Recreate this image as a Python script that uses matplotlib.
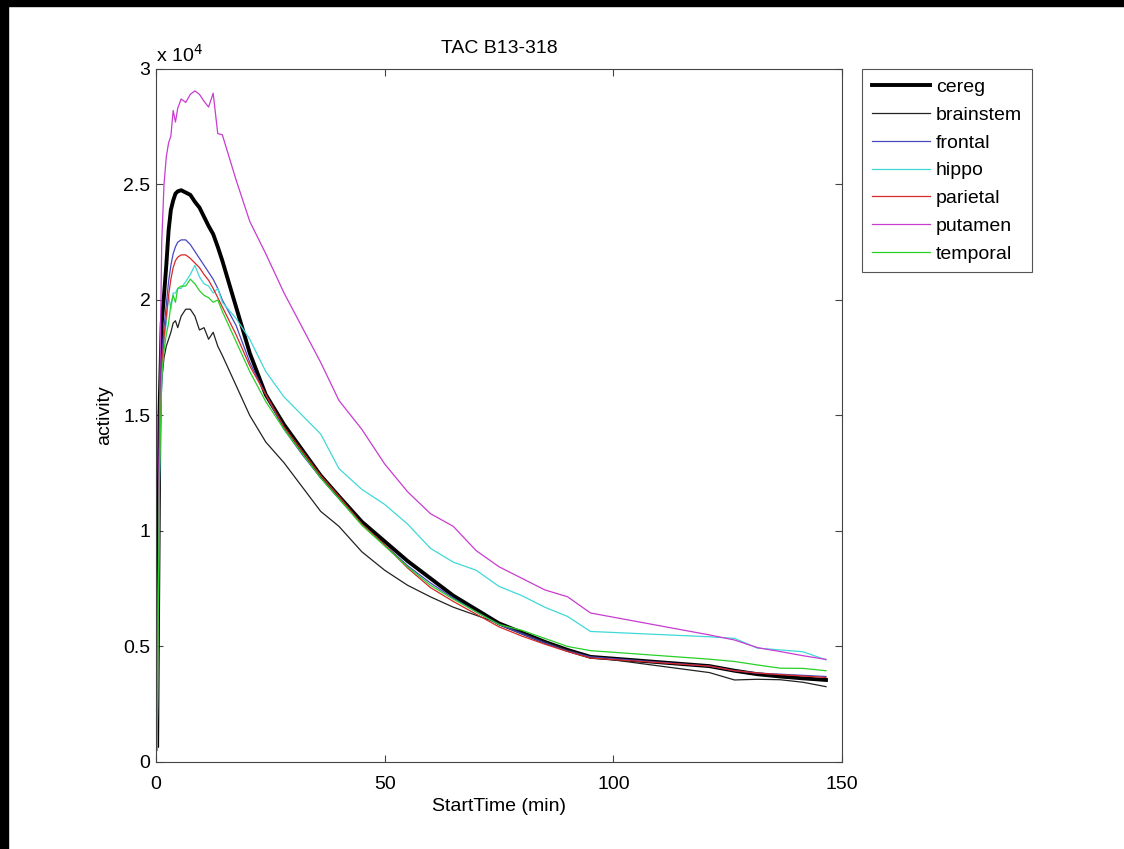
import matplotlib
matplotlib.use("Agg")
import matplotlib.pyplot as plt
from matplotlib.patches import Rectangle
from matplotlib.ticker import FuncFormatter

# frame start times (min)
t = [0.25, 0.75, 1.25, 1.75, 2.25, 2.75, 3.25, 3.75, 4.25, 4.75,
     5.5, 6.5, 7.5, 8.5, 9.5, 10.5, 11.5, 12.5, 13.5, 14.5,
     17.5, 20.5, 24, 28, 32, 36, 40, 45, 50, 55,
     60, 65, 70, 75, 80, 85, 90, 95, 121, 126.5,
     131.5, 136.5, 141.5, 146.5]

cereg = [700, 15000, 19000, 20200, 21500, 23000, 23900, 24300, 24600, 24700,
         24750, 24650, 24550, 24250, 24000, 23600, 23200, 22850, 22300, 21700,
         19700, 17700, 15900, 14600, 13500, 12400, 11500, 10400, 9550, 8700,
         7950, 7200, 6600, 6000, 5600, 5200, 4850, 4550, 4150, 3950,
         3800, 3700, 3620, 3550]
brainstem = [700, 13000, 16500, 17500, 18000, 18300, 18600, 19000, 19100, 18800,
             19300, 19600, 19600, 19300, 18700, 18800, 18300, 18600, 18000, 17600,
             16300, 15000, 13850, 12950, 11900, 10850, 10200, 9100, 8300, 7650,
             7150, 6700, 6350, 6000, 5600, 5200, 4850, 4550, 3870, 3550,
             3580, 3560, 3450, 3260]
frontal = [600, 13500, 17500, 18800, 19800, 20800, 21500, 22000, 22300, 22500,
           22600, 22600, 22400, 22100, 21800, 21500, 21200, 20900, 20500, 20000,
           18900, 17300, 15900, 14400, 13300, 12300, 11400, 10300, 9400, 8500,
           7750, 7100, 6500, 5950, 5550, 5150, 4800, 4550, 4150, 3950,
           3850, 3800, 3750, 3700]
hippo = [500, 12000, 16500, 18200, 19000, 20200, 19600, 20300, 20300, 20500,
         20500, 20800, 21100, 21500, 21000, 20700, 20600, 20300, 20500, 19900,
         19200, 18300, 16900, 15800, 15000, 14200, 12700, 11800, 11150, 10300,
         9250, 8650, 8300, 7600, 7200, 6700, 6300, 5650, 5420, 5350,
         4930, 4850, 4770, 4420]
parietal = [600, 13000, 17000, 18400, 19300, 20200, 20900, 21400, 21700, 21850,
            21950, 21950, 21800, 21600, 21400, 21100, 20850, 20500, 20100, 19700,
            18500, 17150, 15900, 14500, 13450, 12400, 11500, 10300, 9400, 8400,
            7550, 6950, 6400, 5850, 5450, 5100, 4780, 4500, 4150, 3950,
            3850, 3780, 3720, 3660]
putamen = [600, 15000, 22500, 25000, 26200, 26800, 27100, 28200, 27700, 28300,
           28700, 28550, 28900, 29050, 28900, 28600, 28350, 28950, 27200, 27150,
           25200, 23400, 22000, 20300, 18800, 17300, 15650, 14400, 12900, 11700,
           10750, 10200, 9150, 8450, 7950, 7450, 7150, 6450, 5500, 5280,
           4950, 4780, 4600, 4440]
temporal = [500, 12500, 16800, 17800, 18500, 19000, 19800, 20200, 19900, 20500,
            20600, 20600, 20900, 20700, 20400, 20200, 20100, 19900, 20000, 19500,
            18200, 16900, 15600, 14400, 13350, 12300, 11400, 10250, 9350, 8450,
            7650, 7050, 6500, 5950, 5700, 5350, 5000, 4820, 4450, 4350,
            4200, 4060, 4050, 3950]

regions = ["cereg", "brainstem", "frontal", "hippo", "parietal", "putamen", "temporal"]
series = [cereg, brainstem, frontal, hippo, parietal, putamen, temporal]
colors = ["black", "#222222", "#4848c0", "#40d8d8", "#d82828", "#c83cd0", "#28d028"]
widths = [2.8, 0.9, 0.9, 0.9, 0.9, 0.9, 0.9]

plt.rcParams["font.family"] = ["Liberation Sans", "DejaVu Sans"]
plt.rcParams["font.size"] = 14

fig = plt.figure(figsize=(11.24, 8.49), dpi=100)
ax = fig.add_axes([0.1388, 0.1025, 0.6103, 0.8163])

for name, vals, c, lw in zip(regions, series, colors, widths):
    ax.plot(t, vals, color=c, linewidth=lw, label=name)

ax.set_xlim(0, 150)
ax.set_ylim(0, 30000)
ax.set_xticks([0, 50, 100, 150])
ax.set_yticks([0, 5000, 10000, 15000, 20000, 25000, 30000])
ax.yaxis.set_major_formatter(FuncFormatter(lambda v, p: "%g" % (v / 1e4)))
ax.tick_params(direction="in", length=5, top=True, right=True, width=0.8,
               color="#444444", labelsize=14)
ax.tick_params(axis="x", pad=10)
ax.tick_params(axis="y", pad=4)
for s in ax.spines.values():
    s.set_color("#444444")
    s.set_linewidth(0.8)

ax.text(0.0, 1.010, "x 10$^{4}$", transform=ax.transAxes, fontsize=14,
        ha="left", va="baseline")
ax.set_title("TAC B13-318", fontsize=14, pad=11.5)
ax.set_xlabel("StartTime (min)", fontsize=14, labelpad=4)
ax.set_ylabel("activity", fontsize=14, labelpad=7)

leg = ax.legend(loc="upper left", bbox_to_anchor=(1.029, 1.0), borderaxespad=0,
                fancybox=False, framealpha=1, edgecolor="#555555",
                handlelength=3.0, handletextpad=0.3, labelspacing=0.52,
                borderpad=0.5, fontsize=14)
leg.get_frame().set_linewidth(0.8)

# black strips on left and top edge
fig.patches.append(Rectangle((0, 0), 8 / 1124, 1, transform=fig.transFigure,
                             color="black", zorder=10))
fig.patches.append(Rectangle((0, 1 - 6 / 849), 1, 6 / 849, transform=fig.transFigure,
                             color="black", zorder=10))

fig.savefig("out.png", dpi=100)
